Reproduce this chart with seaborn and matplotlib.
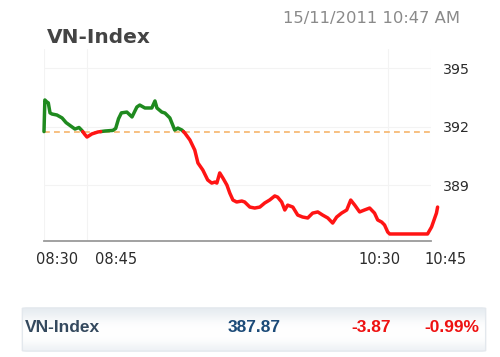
import numpy as np
import pandas as pd
import matplotlib
matplotlib.use("Agg")
import matplotlib.pyplot as plt
from matplotlib.patches import FancyBboxPatch
from matplotlib.transforms import ScaledTranslation
import seaborn as sns

# ---- data ----
minutes = [0.0, 0.3, 1.0, 1.5, 2.1, 2.8, 4.5, 6.3, 7.7, 9.1, 10.8, 12.2, 13.2, 14.2, 15.0,
           16.7, 18.8, 21.3, 24.0, 25.0, 26.0, 27.0, 28.9, 30.7, 32.4, 33.4, 35.2, 37.6,
           38.7, 39.4, 41.1, 42.2, 43.9, 45.6, 46.7, 48.1, 49.1, 50.9, 52.6, 53.7, 55.4,
           57.1, 58.5, 59.6, 60.3, 61.3, 62.4, 63.8, 64.8, 65.9, 67.2, 69.0, 70.0, 71.8,
           73.5, 75.3, 77.0, 78.7, 80.5, 81.5, 82.9, 84.0, 85.0, 86.8, 88.5, 90.2, 92.0,
           93.7, 95.5, 97.2, 99.0, 100.7, 102.1, 103.8, 105.6, 107.0, 108.4, 110.1, 111.8,
           113.6, 115.3, 116.4, 117.8, 118.8, 119.9, 120.6, 133.8, 135.2, 136.9, 137.3]
index_values = [391.74, 393.36, 393.26, 393.21, 392.70, 392.64, 392.59, 392.44, 392.20, 392.05,
                391.87, 391.95, 391.80, 391.60, 391.46, 391.62, 391.72, 391.77, 391.80, 391.90,
                392.40, 392.70, 392.74, 392.49, 393.00, 393.10, 392.95, 392.95, 393.31, 392.95,
                392.74, 392.69, 392.44, 391.82, 391.92, 391.82, 391.67, 391.31, 390.79, 390.13,
                389.77, 389.26, 389.10, 389.15, 389.10, 389.62, 389.36, 389.00, 388.59, 388.23,
                388.13, 388.18, 388.13, 387.87, 387.82, 387.87, 388.08, 388.23, 388.44, 388.38,
                388.13, 387.72, 387.97, 387.87, 387.46, 387.36, 387.31, 387.56, 387.62, 387.46,
                387.31, 387.05, 387.36, 387.56, 387.72, 388.23, 387.97, 387.62, 387.72, 387.82,
                387.56, 387.21, 387.10, 386.95, 386.59, 386.49, 386.49, 386.85, 387.56, 387.87]
last_value = 387.87
change = -3.87
change_pct = -0.99
prev_close = round(last_value - change, 2)

x_tick_minutes = [0, 15, 120, 135]
x_tick_labels = ["08:30", "08:45", "10:30", "10:45"]
x_label_shift_px = [13, 29, -8, 14]
y_ticks = [389, 392, 395]
title = "VN-Index"
timestamp = "15/11/2011 10:47 AM"

# ---- split into above / below previous close ----
t = np.array(minutes)
v = np.array(index_values)
pts = [(t[0], v[0])]
for i in range(1, len(t)):
    a, b = v[i - 1] - prev_close, v[i] - prev_close
    if a * b < 0:
        tc = t[i - 1] + (prev_close - v[i - 1]) * (t[i] - t[i - 1]) / (v[i] - v[i - 1])
        pts.append((tc, prev_close))
    pts.append((t[i], v[i]))

rows = []
seg = 0
prev_up = None
for j in range(len(pts) - 1):
    (t0, v0), (t1, v1) = pts[j], pts[j + 1]
    up = (v0 + v1) / 2 >= prev_close
    if up != prev_up:
        seg += 1
        rows.append((seg, up, t0, v0))
        prev_up = up
    rows.append((seg, up, t1, v1))
df = pd.DataFrame(rows, columns=["seg", "up", "t", "v"])

# ---- figure ----
sns.set_theme(style="white")
plt.rcParams["font.family"] = ["DejaVu Sans"]
fig = plt.figure(figsize=(5.0, 3.57), dpi=100)
W, H = 500, 357
ax = fig.add_axes([44 / W, 1 - 241 / H, (431 - 44) / W, (241 - 48.5) / H])

ax.axhline(prev_close, color="#f6b56c", lw=1.2, dashes=(3.5, 2.5), zorder=1)

sns.lineplot(data=df[df.up], x="t", y="v", units="seg", estimator=None, sort=False,
             color="#1f8a1f", lw=2.5, ax=ax, zorder=3)
sns.lineplot(data=df[~df.up], x="t", y="v", units="seg", estimator=None, sort=False,
             color="#ff1414", lw=2.5, ax=ax, zorder=3)
for ln in ax.lines:
    ln.set_clip_on(False)
    ln.set_solid_capstyle("round")
    ln.set_solid_joinstyle("round")

ax.set_xlim(0, 135)
ax.set_ylim(386.13, 396)
ax.set_xlabel("")
ax.set_ylabel("")

for s in ["top", "left", "right"]:
    ax.spines[s].set_visible(False)
ax.spines["bottom"].set_color("#9a9a9a")
ax.spines["bottom"].set_linewidth(1.3)

ax.set_xticks(x_tick_minutes)
ax.set_xticklabels(x_tick_labels)
ax.yaxis.tick_right()
ax.set_yticks(y_ticks)
ax.set_yticklabels([str(y) for y in y_ticks])
ax.tick_params(axis="x", length=0, pad=8, labelsize=10.5, labelcolor="#2b2b2b")
ax.tick_params(axis="y", length=0, pad=8.5, labelsize=10.2, labelcolor="#2b2b2b")
for lab, dx in zip(ax.get_xticklabels(), x_label_shift_px):
    lab.set_transform(lab.get_transform() + ScaledTranslation(dx / 100, 0, fig.dpi_scale_trans))

ax.grid(True, color="#f3f3f3", lw=0.8)
ax.set_axisbelow(True)

fig.text(47 / W, 1 - 43 / H, title, ha="left", va="baseline", fontsize=14.5,
         fontweight="bold", color="#444444")
fig.text(460 / W, 1 - 23 / H, timestamp, ha="right", va="baseline", fontsize=11.8,
         color="#8a8a8a")

# ---- bottom summary box ----
bx0, bx1, by0, by1 = 20, 488, 307, 352
bax = fig.add_axes([bx0 / W, 1 - by1 / H, (bx1 - bx0) / W, (by1 - by0) / H])
bax.set_axis_off()
shade = [0.80, 0.45, 0.1, 0.0, 0.0, 0.15, 0.55]
edge_c = np.array([0.88, 0.905, 0.93])
white = np.array([1.0, 1.0, 1.0])
img = np.zeros((len(shade), 1, 3))
for k, f in enumerate(shade):
    img[k, 0] = white * (1 - f) + edge_c * f
im = bax.imshow(img, aspect="auto", extent=[0, 1, 0, 1], interpolation="bicubic")
bax.set_xlim(0, 1)
bax.set_ylim(0, 1)
patch = FancyBboxPatch((0.005, 0.02), 0.99, 0.96, boxstyle="round,pad=0,rounding_size=0.012",
                       transform=bax.transAxes, facecolor="none", edgecolor="#e3e8ed", lw=1)
bax.add_patch(patch)
im.set_clip_path(patch)

yb = 1 - 327 / H
fig.text(25 / W, yb, title, ha="left", va="center", fontsize=12.5, fontweight="bold",
         color="#34495e", family="Liberation Sans")
fig.text(254 / W, yb, f"{last_value:.2f}", ha="center", va="center", fontsize=12.5,
         fontweight="bold", color="#1b4a78", family="Liberation Sans")
fig.text(391 / W, yb, f"{change:.2f}", ha="right", va="center", fontsize=12.5,
         fontweight="bold", color="#ee1111", family="Liberation Sans")
fig.text(479 / W, yb, f"{change_pct:.2f}%", ha="right", va="center", fontsize=12.5,
         fontweight="bold", color="#ee1111", family="Liberation Sans")

fig.savefig("out.png", dpi=100)
